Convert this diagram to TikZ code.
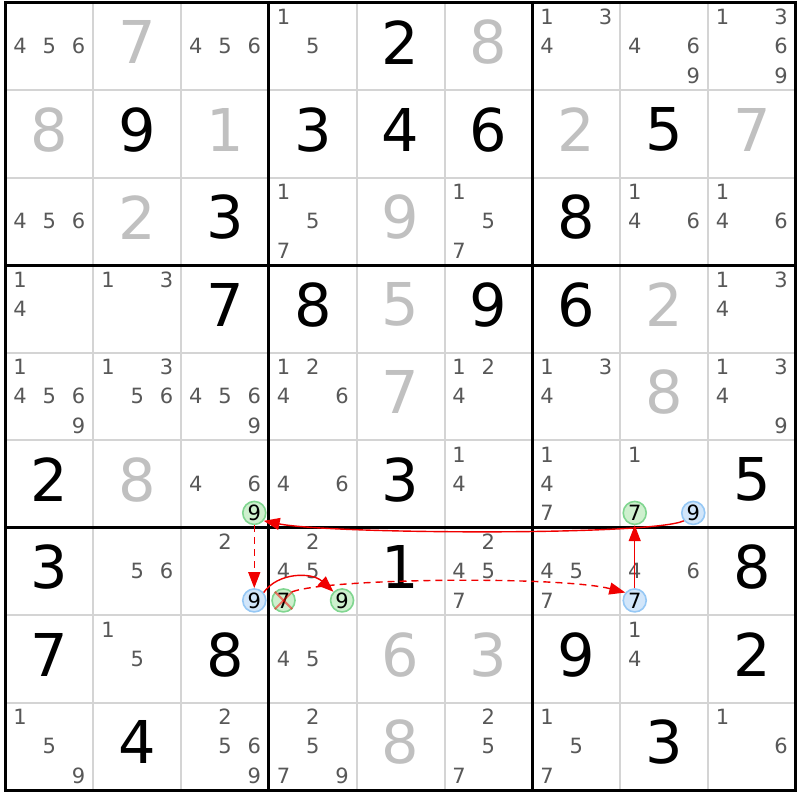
\documentclass[tikz,border=0pt]{standalone}
\usepackage{fontspec}
\setmainfont{DejaVu Sans}
\usetikzlibrary{arrows.meta}
\definecolor{candgray}{RGB}{88,88,88}
\definecolor{givengray}{RGB}{192,192,192}
\definecolor{thingray}{RGB}{212,212,212}
\definecolor{gfill}{RGB}{206,240,206}
\definecolor{gdraw}{RGB}{128,214,144}
\definecolor{bfill}{RGB}{210,230,250}
\definecolor{bdraw}{RGB}{150,200,245}
\definecolor{linkred}{RGB}{240,0,0}
\begin{document}
\begin{tikzpicture}[x=1pt,y=-1pt,
  given/.style={inner sep=0pt, text=givengray, font=\fontsize{59}{59}\selectfont},
  solved/.style={given, text=black},
  cand/.style={inner sep=0pt, text=candgray, font=\fontsize{21}{21}\selectfont},
  gcirc/.style={circle, minimum size=23pt, inner sep=0pt, fill=gfill, draw=gdraw, line width=1.6pt, text=black, font=\fontsize{21}{21}\selectfont},
  bcirc/.style={gcirc, fill=bfill, draw=bdraw},
  strong/.style={draw=linkred, line width=1.4pt, -{Triangle[length=16pt,width=12pt]}},
  weak/.style={strong, dash pattern=on 7pt off 5pt},
  gridthin/.style={draw=thingray, line width=2pt},
  gridthick/.style={draw=black, line width=3pt},
  crossx/.style={draw=red, opacity=0.5, line width=2pt}
]
\fill[white] (0,0) rectangle (800,800);
\useasboundingbox (0,0) rectangle (800,800);
% thin grid
\foreach \i in {1,2,4,5,7,8} {
  \draw[gridthin] ({5.5+\i*87.8},2.5) -- ({5.5+\i*87.8},790);
  \draw[gridthin] (5.5,{2.5+\i*87.5}) -- (795.7,{2.5+\i*87.5});
}
% thick grid
\foreach \i in {0,3,6,9} {
  \draw[gridthick] ({5.5+\i*87.8},1) -- ({5.5+\i*87.8},791.5);
  \draw[gridthick] (4,{2.5+\i*87.5}) -- (797.2,{2.5+\i*87.5});
}
% given digits
\foreach \r/\c/\d in {1/2/7,1/6/8,2/1/8,2/3/1,2/7/2,2/9/7,3/2/2,3/5/9,4/5/5,4/8/2,5/5/7,5/8/8,6/2/8,8/5/6,8/6/3,9/5/8} {
  \node[given] (v\r\c) at ({5.5+(\c-0.5)*87.8},{2.5+(\r-0.5)*87.5-4}) {\d};
}
% solved digits
\foreach \r/\c/\d in {1/5/2,2/2/9,2/4/3,2/5/4,2/6/6,2/8/5,3/3/3,3/7/8,4/3/7,4/4/8,4/6/9,4/7/6,6/1/2,6/5/3,6/9/5,7/1/3,7/5/1,7/9/8,8/1/7,8/3/8,8/7/9,8/9/2,9/2/4,9/8/3} {
  \node[solved] (v\r\c) at ({5.5+(\c-0.5)*87.8},{2.5+(\r-0.5)*87.5-4}) {\d};
}
% candidates
\foreach \r/\c/\L in {1/1/{4,5,6},1/3/{4,5,6},1/4/{1,5},1/7/{1,3,4},1/8/{4,6,9},1/9/{1,3,6,9},
  3/1/{4,5,6},3/4/{1,5,7},3/6/{1,5,7},3/8/{1,4,6},3/9/{1,4,6},
  4/1/{1,4},4/2/{1,3},4/9/{1,3,4},
  5/1/{1,4,5,6,9},5/2/{1,3,5,6},5/3/{4,5,6,9},5/4/{1,2,4,6},5/6/{1,2,4},5/7/{1,3,4},5/9/{1,3,4,9},
  6/3/{4,6},6/4/{4,6},6/6/{1,4},6/7/{1,4,7},6/8/{1},
  7/2/{5,6},7/3/{2},7/4/{2,4,5},7/6/{2,4,5,7},7/7/{4,5,7},7/8/{4,6},
  8/2/{1,5},8/4/{4,5},8/8/{1,4},
  9/1/{1,5,9},9/3/{2,5,6,9},9/4/{2,5,7,9},9/6/{2,5,7},9/7/{1,5,7},9/9/{1,6}} {
  \foreach \d in \L {
    \pgfmathtruncatemacro\ci{mod(\d-1,3)}
    \pgfmathtruncatemacro\ri{floor((\d-1)/3)}
    \node[cand] (c\r\c\d) at ({5.5+(\c-1)*87.8+(2*\ci+1)*87.8/6},{2.5+(\r-1)*87.5+(2*\ri+1)*87.5/6}) {\d};
  }
}
% highlighted candidates
\node[gcirc] (g63) at (254.27,512.92) {9};
\node[gcirc] (g68) at (634.73,512.92) {7};
\node[bcirc] (b69) at (693.27,512.92) {9};
\node[bcirc] (b73) at (254.27,600.42) {9};
\node[gcirc] (x74) at (283.53,600.42) {7};
\node[gcirc] (g74) at (342.07,600.42) {9};
\node[bcirc] (b78) at (634.73,600.42) {7};
\draw[crossx] (x74.north west) -- (x74.south east);
\draw[crossx] (x74.north east) -- (x74.south west);
% links
\draw[strong] (b69.-140) .. controls (650,536) and (330,534) .. (g63.-40);
\draw[weak] (g63) -- (b73);
\draw[strong] (b73.40) .. controls (278,572) and (312,572) .. (g74.135);
\draw[weak] (x74.45) .. controls (330,578) and (560,576) .. (b78.140);
\draw[strong] (b78) -- (g68);
\end{tikzpicture}
\end{document}
